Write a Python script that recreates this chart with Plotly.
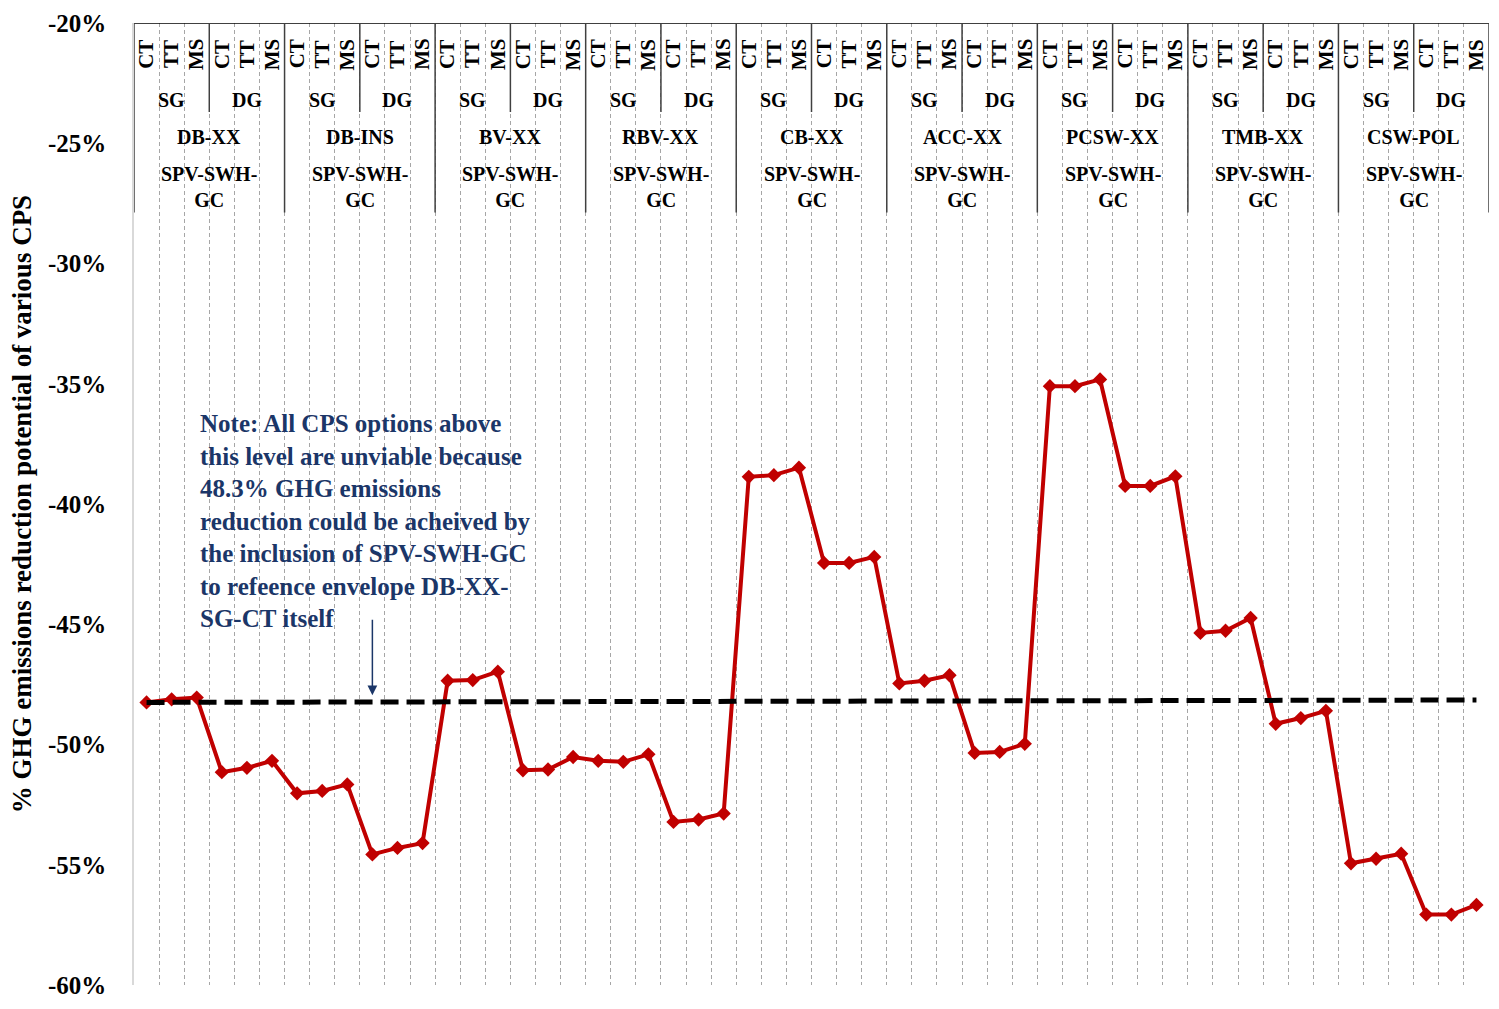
import plotly.graph_objects as go

# ---------------- data ----------------
groups = ["DB-XX", "DB-INS", "BV-XX", "RBV-XX", "CB-XX", "ACC-XX", "PCSW-XX", "TMB-XX", "CSW-POL"]
glazings = ["SG", "DG"]
frames = ["CT", "TT", "MS"]
system_label = "SPV-SWH-<br>GC"

# % GHG emissions reduction (per group: SG-CT, SG-TT, SG-MS, DG-CT, DG-TT, DG-MS)
db_xx = [-48.25, -48.12, -48.05, -51.15, -50.97, -50.68]
db_ins = [-52.03, -51.93, -51.66, -54.57, -54.30, -54.10]
bv_xx = [-47.35, -47.32, -46.97, -51.07, -51.04, -50.52]
rbv_xx = [-50.68, -50.72, -50.41, -53.22, -53.12, -52.87]
cb_xx = [-38.87, -38.80, -38.49, -42.45, -42.45, -42.20]
acc_xx = [-47.46, -47.35, -47.12, -50.35, -50.31, -49.97]
pcsw_xx = [-35.10, -35.10, -34.82, -39.25, -39.25, -38.85]
tmb_xx = [-45.36, -45.27, -44.74, -49.14, -48.90, -48.60]
csw_pol = [-54.94, -54.75, -54.54, -57.07, -57.07, -56.67]

values = db_xx + db_ins + bv_xx + rbv_xx + cb_xx + acc_xx + pcsw_xx + tmb_xx + csw_pol
reference_level = [-48.25, -48.15]  # dashed reference line (start, end)

y_ticks = [-20, -25, -30, -35, -40, -45, -50, -55, -60]
y_ticktext = ["-20%", "-25%", "-30%", "-35%", "-40%", "-45%", "-50%", "-55%", "-60%"]

note_text = ("Note: All CPS options above<br>this level are unviable because<br>"
             "48.3% GHG emissions<br>reduction could be acheived by<br>"
             "the inclusion of SPV-SWH-GC<br>to refeence envelope DB-XX-<br>SG-CT itself")

# ---------------- figure ----------------
n = len(values)
xs = list(range(n))
labels = [f"SPV-SWH-GC {g} {gl} {f}" for g in groups for gl in glazings for f in frames]

SERIF = "Liberation Serif"
fig = go.Figure()
fig.add_trace(go.Scatter(
    x=xs, y=values, mode="lines+markers", text=labels,
    line=dict(color="#C00000", width=4),
    marker=dict(symbol="diamond", size=11, color="#C00000"),
    hovertemplate="%{text}: %{y:.2f}%<extra></extra>",
))
fig.add_trace(go.Scatter(
    x=[xs[0], xs[-1]], y=reference_level, mode="lines",
    line=dict(color="black", width=5, dash="18px,8px"),
    hoverinfo="skip",
))

# ---------------- header table ----------------
Y_TOP = -20
Y_FRAME = -21.3
Y_GLAZ = -23.2
Y_GLAZ_SEP = -23.7
Y_GROUP = -24.75
Y_SYS = -26.8
Y_GROUP_SEP = -27.88

shapes = []
annotations = []
hdr_font = dict(family=SERIF, size=20, color="black", weight="bold")
rot_font = dict(family=SERIF, size=21, color="black", weight="bold")
line_col = "#404040"

shapes.append(dict(type="line", xref="x", yref="y", x0=-0.5, x1=n - 0.5, y0=Y_TOP, y1=Y_TOP,
                   line=dict(color="black", width=1.5)))
for gi, g in enumerate(groups):
    base = gi * 6
    shapes.append(dict(type="line", xref="x", yref="y", x0=base - 0.5, x1=base - 0.5,
                       y0=Y_TOP, y1=Y_GROUP_SEP, line=dict(color=line_col, width=1.5)))
    shapes.append(dict(type="line", xref="x", yref="y", x0=base + 2.5, x1=base + 2.5,
                       y0=Y_TOP, y1=Y_GLAZ_SEP, line=dict(color=line_col, width=1.5)))
    annotations.append(dict(x=base + 2.5, y=Y_GROUP, xref="x", yref="y", text=g,
                            showarrow=False, font=hdr_font))
    annotations.append(dict(x=base + 2.5, y=Y_SYS, xref="x", yref="y", text=system_label,
                            showarrow=False, font=hdr_font))
    for li, gl in enumerate(glazings):
        annotations.append(dict(x=base + li * 3 + 1, y=Y_GLAZ, xref="x", yref="y", text=gl,
                                showarrow=False, font=hdr_font))
        for fi, f in enumerate(frames):
            annotations.append(dict(x=base + li * 3 + fi, y=Y_FRAME, xref="x", yref="y", text=f,
                                    textangle=-90, showarrow=False, font=rot_font))
shapes.append(dict(type="line", xref="x", yref="y", x0=n - 0.5, x1=n - 0.5,
                   y0=Y_TOP, y1=Y_GROUP_SEP, line=dict(color=line_col, width=1.5)))

# ---------------- note + arrow ----------------
navy = "#1B3668"
annotations.append(dict(x=2.05, y=-36.0, xref="x", yref="y", xanchor="left", yanchor="top",
                        align="left", text=note_text, showarrow=False,
                        font=dict(family=SERIF, size=25, color=navy, weight="bold")))
annotations.append(dict(x=9, y=-47.95, ax=9, ay=-44.75, xref="x", yref="y", axref="x", ayref="y",
                        text="", showarrow=True, arrowhead=2, arrowsize=1.3, arrowwidth=1.5,
                        arrowcolor=navy))

fig.update_layout(
    width=1499, height=1009,
    margin=dict(l=134, r=10, t=17, b=16),
    paper_bgcolor="white", plot_bgcolor="white",
    showlegend=False,
    shapes=shapes, annotations=annotations,
    xaxis=dict(range=[-0.5, n - 0.5], tickvals=[k + 0.5 for k in range(n)],
               showticklabels=False, ticks="", showgrid=True, gridcolor="#a6a6a6",
               gridwidth=1, griddash="4px,3px", zeroline=False, showline=False),
    yaxis=dict(range=[-60, -20], tickvals=y_ticks, ticktext=y_ticktext, ticks="",
               tickfont=dict(family=SERIF, size=25, color="black", weight="bold"),
               ticklabelstandoff=21, showgrid=False, zeroline=False,
               showline=True, linecolor="#d9d9d9", linewidth=1.5,
               title=dict(text="% GHG emissions reduction potential of various CPS",
                          font=dict(family=SERIF, size=27, color="black", weight="bold"),
                          standoff=8)),
)

fig.write_html("out.html", config={"displayModeBar": False},
               post_script="document.body.style.margin='0';")
